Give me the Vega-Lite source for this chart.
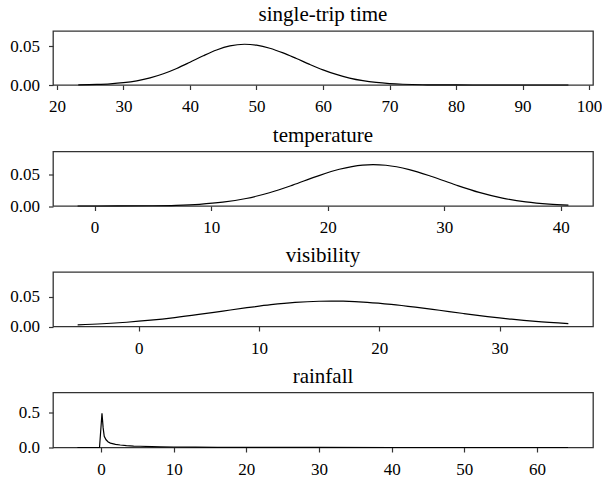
{
  "$schema": "https://vega.github.io/schema/vega-lite/v6.json",
  "padding": {"left": 9, "top": 3, "right": 0, "bottom": 0},
  "spacing": 7.5,
  "config": {
    "font": "Liberation Serif",
    "view": {"stroke": "#333", "strokeWidth": 1.3},
    "axis": {"grid": false, "domain": false, "tickColor": "#333", "tickSize": 4.5, "tickWidth": 1.2, "labelFont": "Liberation Serif", "labelFontSize": 17, "labelColor": "black", "title": null},
    "axisY": {"labelPadding": 9},
    "axisX": {"labelPadding": 9},
    "title": {"font": "Liberation Serif", "fontSize": 21, "fontWeight": "normal", "color": "black", "anchor": "middle", "offset": 6},
    "line": {"color": "black", "strokeWidth": 1.2, "interpolate": "monotone"}
  },
  "vconcat": [
    {
      "title": "single-trip time",
      "width": 540, "height": 54,
      "data": {"values": [
        {"x": 23.2, "density": 0.00024}, {"x": 26, "density": 0.00074}, {"x": 28, "density": 0.00153}, {"x": 30, "density": 0.00299},
        {"x": 32, "density": 0.00541}, {"x": 34, "density": 0.00917}, {"x": 36, "density": 0.01448}, {"x": 38, "density": 0.02133},
        {"x": 40, "density": 0.02934}, {"x": 42, "density": 0.03764}, {"x": 44, "density": 0.04507}, {"x": 46, "density": 0.05035},
        {"x": 48.2, "density": 0.0525}, {"x": 50, "density": 0.05131}, {"x": 52, "density": 0.04739}, {"x": 54, "density": 0.04137},
        {"x": 56, "density": 0.03411}, {"x": 58, "density": 0.02658}, {"x": 60, "density": 0.01957}, {"x": 62, "density": 0.01362},
        {"x": 64, "density": 0.00895}, {"x": 66, "density": 0.00556}, {"x": 68, "density": 0.00326}, {"x": 70, "density": 0.00181},
        {"x": 72, "density": 0.00095}, {"x": 75, "density": 0.00032}, {"x": 80, "density": 0.00005}, {"x": 85, "density": 0.00001},
        {"x": 90, "density": 0}, {"x": 96.9, "density": 0}
      ]},
      "mark": {"type": "line"},
      "encoding": {
        "x": {"field": "x", "type": "quantitative", "scale": {"domain": [19.4, 100.6], "nice": false, "zero": false}, "axis": {"values": [20, 30, 40, 50, 60, 70, 80, 90, 100]}},
        "y": {"field": "density", "type": "quantitative", "scale": {"domain": [0, 0.0696], "nice": false, "zero": false}, "axis": {"values": [0, 0.05], "format": ".2f"}}
      }
    },
    {
      "title": "temperature",
      "width": 540, "height": 54.5,
      "data": {"values": [
        {"x": -1.46, "density": 0}, {"x": 2, "density": 0.00007}, {"x": 5, "density": 0.00038}, {"x": 7, "density": 0.00107},
        {"x": 9, "density": 0.00268}, {"x": 11, "density": 0.00595}, {"x": 13, "density": 0.0118}, {"x": 15, "density": 0.02083},
        {"x": 17, "density": 0.0328}, {"x": 19, "density": 0.04604}, {"x": 21, "density": 0.0576}, {"x": 23, "density": 0.06425},
        {"x": 23.9, "density": 0.065}, {"x": 25, "density": 0.06395}, {"x": 27, "density": 0.05713}, {"x": 29, "density": 0.04583},
        {"x": 31, "density": 0.03302}, {"x": 33, "density": 0.02137}, {"x": 35, "density": 0.01241}, {"x": 37, "density": 0.00648},
        {"x": 39, "density": 0.00303}, {"x": 40.66, "density": 0.00149}
      ]},
      "mark": {"type": "line"},
      "encoding": {
        "x": {"field": "x", "type": "quantitative", "scale": {"domain": [-3.57, 42.77], "nice": false, "zero": false}, "axis": {"values": [0, 10, 20, 30, 40]}},
        "y": {"field": "density", "type": "quantitative", "scale": {"domain": [0, 0.0855], "nice": false, "zero": false}, "axis": {"values": [0, 0.05], "format": ".2f"}}
      }
    },
    {
      "title": "visibility",
      "width": 540, "height": 54.5,
      "data": {"values": [
        {"x": -5.07, "density": 0.00278}, {"x": -3, "density": 0.00463}, {"x": -1, "density": 0.00722}, {"x": 1, "density": 0.01072},
        {"x": 3, "density": 0.01515}, {"x": 5, "density": 0.02037}, {"x": 7, "density": 0.02608}, {"x": 9, "density": 0.03178},
        {"x": 11, "density": 0.03685}, {"x": 13, "density": 0.04068}, {"x": 15, "density": 0.04273}, {"x": 16, "density": 0.043},
        {"x": 17, "density": 0.04276}, {"x": 19, "density": 0.04091}, {"x": 21, "density": 0.03744}, {"x": 23, "density": 0.03278},
        {"x": 25, "density": 0.02745}, {"x": 27, "density": 0.022}, {"x": 29, "density": 0.01686}, {"x": 31, "density": 0.01236},
        {"x": 33, "density": 0.00867}, {"x": 35.72, "density": 0.00498}
      ]},
      "mark": {"type": "line"},
      "encoding": {
        "x": {"field": "x", "type": "quantitative", "scale": {"domain": [-7.12, 37.77], "nice": false, "zero": false}, "axis": {"values": [0, 10, 20, 30]}},
        "y": {"field": "density", "type": "quantitative", "scale": {"domain": [0, 0.0922], "nice": false, "zero": false}, "axis": {"values": [0, 0.05], "format": ".2f"}}
      }
    },
    {
      "title": "rainfall",
      "width": 540, "height": 55,
      "data": {"values": [
        {"x": -3.24, "density": 0}, {"x": -1, "density": 0}, {"x": -0.2, "density": 0}, {"x": 0.14, "density": 0.49},
        {"x": 0.3, "density": 0.28}, {"x": 0.45, "density": 0.16}, {"x": 0.7, "density": 0.11}, {"x": 1.0, "density": 0.08},
        {"x": 1.3, "density": 0.063}, {"x": 2, "density": 0.045}, {"x": 2.65, "density": 0.036}, {"x": 3.5, "density": 0.027},
        {"x": 4.5, "density": 0.021}, {"x": 5.4, "density": 0.018}, {"x": 7, "density": 0.013}, {"x": 8.2, "density": 0.01},
        {"x": 10, "density": 0.007}, {"x": 13, "density": 0.004}, {"x": 16, "density": 0.0025}, {"x": 20, "density": 0.0015},
        {"x": 25, "density": 0.0008}, {"x": 30, "density": 0.0004}, {"x": 40, "density": 0.0001}, {"x": 50, "density": 0},
        {"x": 64.26, "density": 0}
      ]},
      "mark": {"type": "line", "interpolate": "linear"},
      "encoding": {
        "x": {"field": "x", "type": "quantitative", "scale": {"domain": [-6.6, 67.7], "nice": false, "zero": false}, "axis": {"values": [0, 10, 20, 30, 40, 50, 60]}},
        "y": {"field": "density", "type": "quantitative", "scale": {"domain": [0, 0.786], "nice": false, "zero": false}, "axis": {"values": [0, 0.5], "format": ".1f"}}
      }
    }
  ]
}
